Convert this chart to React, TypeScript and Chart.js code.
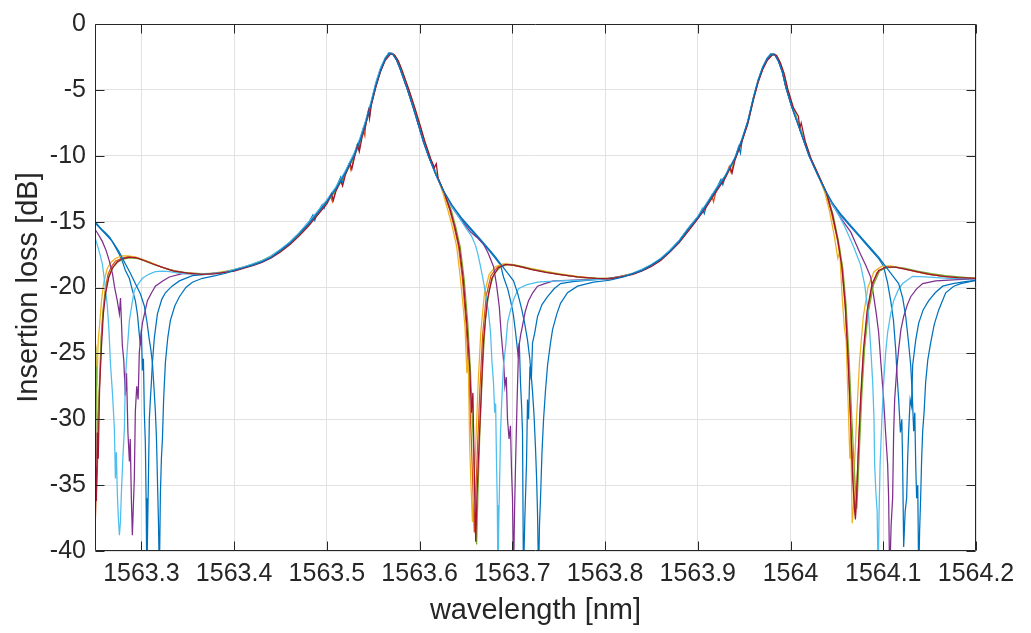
import React, { useEffect, useRef } from "react";
import { Chart, registerables } from "chart.js";

Chart.register(...registerables);

// ---- axis ticks ----
const xTickValues = [1563.3, 1563.4, 1563.5, 1563.6, 1563.7, 1563.8, 1563.9, 1564.0, 1564.1, 1564.2];
const yTickValues = [0, -5, -10, -15, -20, -25, -30, -35, -40];

// ---- series: [wavelength nm, insertion loss dB] ----
const blueA: number[][] = [
  [1563.25,-15.0],[1563.256,-15.5],[1563.262,-15.9],[1563.266,-16.2],[1563.271,-16.8],[1563.2763,-17.5],[1563.28,-18.1],[1563.2827,-18.7],[1563.287,-19.3],[1563.2903,-20.2],[1563.2935,-21.0],[1563.2957,-22.0],[1563.2989,-24.4],[1563.3,-23.2],[1563.3011,-26.3],[1563.3022,-25.4],[1563.3032,-29.5],[1563.3043,-31.8],[1563.3051,-36.0],[1563.3059,-42.0],[1563.3068,-38.0],[1563.3076,-34.5],[1563.3086,-30.0],[1563.3097,-28.5],[1563.3108,-27.2],[1563.3119,-25.7],[1563.314,-23.8],[1563.3173,-22.0],[1563.322,-20.9],[1563.3259,-20.4],[1563.333,-19.9],[1563.341,-19.5],[1563.355,-19.1],[1563.37,-19.0],[1563.385,-18.9],
  [1563.40,-18.65],[1563.41,-18.45],[1563.42,-18.25],[1563.43,-18.0],[1563.44,-17.65],[1563.45,-17.15],[1563.46,-16.6],[1563.47,-15.9],[1563.48,-15.1],[1563.485,-14.5],[1563.487,-14.9],[1563.49,-14.3],[1563.495,-13.7],[1563.497,-14.0],[1563.50,-13.4],[1563.51,-12.4],[1563.515,-11.6],[1563.517,-12.0],[1563.52,-11.2],[1563.53,-9.8],[1563.533,-9.1],[1563.535,-9.5],[1563.536,-8.7],[1563.542,-7.4],[1563.545,-6.5],[1563.546,-7.0],[1563.548,-5.9],[1563.553,-4.5],[1563.558,-3.4],[1563.563,-2.6],[1563.567,-2.2],[1563.571,-2.25],[1563.575,-2.7],[1563.579,-3.4],[1563.583,-4.2],[1563.587,-5.0],[1563.593,-6.3],[1563.599,-7.7],[1563.604,-8.9],[1563.61,-10.1],[1563.618,-11.5],[1563.626,-12.7],
  [1563.635,-13.8],[1563.645,-14.8],[1563.655,-15.6],[1563.665,-16.4],[1563.675,-17.2],[1563.682,-17.8],[1563.6873,-18.3],[1563.6905,-19.2],[1563.695,-20.1],[1563.6981,-21.0],[1563.701,-22.0],[1563.7035,-23.4],[1563.706,-25.0],[1563.7075,-24.2],[1563.7088,-27.2],[1563.71,-29.0],[1563.711,-31.0],[1563.712,-42.0],[1563.7135,-37.5],[1563.7153,-33.4],[1563.7164,-28.5],[1563.7175,-30.0],[1563.719,-26.0],[1563.7205,-27.0],[1563.7218,-24.2],[1563.724,-23.5],[1563.7272,-22.2],[1563.732,-21.3],[1563.738,-20.7],[1563.745,-20.1],[1563.752,-19.7],[1563.765,-19.55],[1563.78,-19.45],[1563.80,-19.35],[1563.815,-19.2],
  [1563.83,-18.95],[1563.84,-18.65],[1563.85,-18.3],[1563.86,-17.8],[1563.87,-17.2],[1563.88,-16.45],[1563.89,-15.5],[1563.90,-14.65],[1563.905,-14.0],[1563.907,-14.4],[1563.91,-13.6],[1563.92,-12.5],[1563.925,-11.8],[1563.927,-12.2],[1563.93,-11.5],[1563.94,-10.2],[1563.944,-9.3],[1563.946,-9.8],[1563.948,-8.7],[1563.954,-7.4],[1563.96,-5.6],[1563.965,-4.3],[1563.97,-3.3],[1563.975,-2.6],[1563.979,-2.25],[1563.983,-2.3],[1563.987,-2.8],[1563.991,-3.6],[1563.995,-4.8],[1564.001,-6.2],[1564.008,-7.6],[1564.014,-8.8],[1564.02,-10.0],[1564.029,-11.4],[1564.038,-12.7],
  [1564.045,-13.6],[1564.055,-14.6],[1564.065,-15.4],[1564.075,-16.2],[1564.085,-17.0],[1564.095,-17.8],[1564.1004,-18.4],[1564.1045,-19.6],[1564.108,-21.0],[1564.111,-22.5],[1564.1134,-24.7],[1564.115,-26.8],[1564.1166,-28.5],[1564.1185,-31.0],[1564.12,-30.0],[1564.1209,-33.4],[1564.122,-39.7],[1564.1236,-37.0],[1564.1252,-36.0],[1564.1263,-33.0],[1564.1274,-30.9],[1564.129,-28.5],[1564.1305,-29.0],[1564.1317,-25.9],[1564.135,-24.0],[1564.1382,-22.7],[1564.143,-21.7],[1564.149,-21.0],[1564.156,-20.4],[1564.1641,-19.9],[1564.175,-19.7],[1564.188,-19.55],[1564.2,-19.45],
];

const orange: number[][] = [
  [1563.25,-38.5],[1563.2512,-36.0],[1563.2525,-34.0],[1563.254,-29.0],[1563.2555,-26.5],[1563.257,-23.5],[1563.259,-21.5],[1563.261,-20.2],[1563.264,-19.0],[1563.268,-18.4],[1563.272,-18.0],[1563.278,-17.8],[1563.285,-17.65],[1563.293,-17.7],[1563.30,-17.85],[1563.308,-18.05],[1563.318,-18.35],[1563.33,-18.65],[1563.345,-18.85],[1563.36,-18.95],[1563.375,-18.95],[1563.388,-18.85],
  [1563.40,-18.7],[1563.41,-18.5],[1563.42,-18.3],[1563.43,-18.05],[1563.44,-17.7],[1563.45,-17.2],[1563.46,-16.7],[1563.47,-16.0],[1563.48,-15.25],[1563.49,-14.4],[1563.50,-13.55],[1563.504,-13.0],[1563.506,-13.5],[1563.51,-12.55],[1563.52,-11.35],[1563.524,-10.6],[1563.526,-11.1],[1563.53,-9.95],[1563.536,-8.85],[1563.539,-8.0],[1563.541,-8.5],[1563.542,-7.55],[1563.548,-6.05],[1563.553,-4.65],[1563.558,-3.5],[1563.563,-2.7],[1563.568,-2.25],[1563.572,-2.3],[1563.576,-2.75],[1563.58,-3.45],[1563.584,-4.25],[1563.588,-5.05],[1563.594,-6.35],[1563.60,-7.75],[1563.605,-8.95],[1563.611,-10.2],[1563.619,-11.6],[1563.626,-12.8],
  [1563.632,-14.0],[1563.637,-15.3],[1563.642,-16.9],[1563.646,-19.2],[1563.65,-22.6],[1563.653,-26.5],[1563.656,-32.0],[1563.659,-38.6],[1563.662,-33.0],[1563.665,-27.8],[1563.668,-23.6],[1563.672,-20.6],[1563.677,-19.1],[1563.684,-18.45],[1563.692,-18.25],[1563.70,-18.3],[1563.71,-18.45],[1563.72,-18.6],[1563.735,-18.8],[1563.75,-19.0],[1563.77,-19.2],[1563.79,-19.3],[1563.805,-19.35],[1563.82,-19.15],
  [1563.83,-18.95],[1563.84,-18.7],[1563.85,-18.35],[1563.86,-17.9],[1563.87,-17.25],[1563.88,-16.5],[1563.89,-15.6],[1563.90,-14.7],[1563.91,-13.7],[1563.915,-13.0],[1563.917,-13.5],[1563.92,-12.6],[1563.93,-11.55],[1563.934,-10.8],[1563.936,-11.3],[1563.94,-10.25],[1563.948,-8.75],[1563.954,-7.45],[1563.96,-5.65],[1563.965,-4.35],[1563.97,-3.35],[1563.975,-2.65],[1563.98,-2.3],[1563.984,-2.35],[1563.988,-2.9],[1563.992,-3.7],[1563.996,-4.9],[1564.002,-6.3],[1564.009,-7.7],[1564.015,-8.9],[1564.021,-10.1],[1564.03,-11.5],[1564.038,-12.8],
  [1564.044,-14.3],[1564.05,-16.2],[1564.055,-18.2],[1564.059,-21.5],[1564.062,-25.5],[1564.065,-30.5],[1564.068,-35.0],[1564.07,-37.3],[1564.0725,-33.5],[1564.075,-29.5],[1564.078,-25.8],[1564.082,-22.6],[1564.087,-20.2],[1564.093,-18.9],[1564.102,-18.45],[1564.112,-18.45],[1564.122,-18.55],[1564.135,-18.8],[1564.15,-19.0],[1564.165,-19.15],[1564.18,-19.25],[1564.2,-19.3],
];

const yellow: number[][] = [
  [1563.25,-30.0],[1563.2508,-24.3],[1563.252,-27.5],[1563.2535,-24.0],[1563.255,-22.8],[1563.257,-21.0],[1563.2595,-19.6],[1563.263,-18.6],[1563.267,-18.1],[1563.272,-17.8],[1563.279,-17.6],[1563.286,-17.6],[1563.294,-17.7],[1563.302,-17.9],[1563.31,-18.1],[1563.32,-18.4],[1563.332,-18.7],[1563.346,-18.9],[1563.36,-19.0],[1563.375,-18.95],[1563.388,-18.8],
  [1563.40,-18.65],[1563.41,-18.45],[1563.42,-18.25],[1563.43,-17.95],[1563.44,-17.6],[1563.45,-17.15],[1563.46,-16.6],[1563.47,-15.95],[1563.48,-15.15],[1563.49,-14.3],[1563.50,-13.45],[1563.51,-12.45],[1563.52,-11.25],[1563.53,-9.85],[1563.536,-8.75],[1563.542,-7.45],[1563.548,-5.95],[1563.553,-4.55],[1563.558,-3.4],[1563.563,-2.6],[1563.568,-2.2],[1563.572,-2.3],[1563.576,-2.7],[1563.58,-3.4],[1563.584,-4.2],[1563.588,-5.0],[1563.594,-6.3],[1563.60,-7.7],[1563.605,-8.9],[1563.611,-10.15],[1563.619,-11.6],[1563.625,-12.8],
  [1563.63,-14.0],[1563.635,-15.3],[1563.64,-16.9],[1563.644,-19.3],[1563.647,-21.5],[1563.649,-23.0],[1563.651,-26.5],[1563.6525,-25.5],[1563.654,-32.0],[1563.6557,-35.5],[1563.657,-37.8],[1563.6585,-35.0],[1563.66,-33.0],[1563.663,-27.5],[1563.666,-23.4],[1563.67,-20.4],[1563.675,-19.0],[1563.682,-18.4],[1563.69,-18.2],[1563.70,-18.25],[1563.71,-18.4],[1563.72,-18.55],[1563.735,-18.75],[1563.75,-18.95],[1563.77,-19.15],[1563.79,-19.3],[1563.805,-19.3],[1563.82,-19.1],
  [1563.83,-18.9],[1563.84,-18.65],[1563.85,-18.3],[1563.86,-17.85],[1563.87,-17.2],[1563.88,-16.45],[1563.89,-15.55],[1563.90,-14.65],[1563.91,-13.65],[1563.92,-12.55],[1563.93,-11.5],[1563.94,-10.2],[1563.948,-8.7],[1563.954,-7.4],[1563.96,-5.6],[1563.965,-4.3],[1563.97,-3.3],[1563.975,-2.6],[1563.98,-2.25],[1563.984,-2.35],[1563.988,-2.9],[1563.992,-3.7],[1563.996,-4.9],[1564.002,-6.3],[1564.009,-7.7],[1564.015,-8.9],[1564.021,-10.1],[1564.03,-11.5],[1564.037,-12.8],
  [1564.042,-14.2],[1564.047,-16.0],[1564.051,-17.8],[1564.053,-17.2],[1564.0555,-20.5],[1564.058,-23.0],[1564.06,-24.0],[1564.062,-28.5],[1564.064,-33.0],[1564.065,-31.0],[1564.0665,-37.9],[1564.068,-36.5],[1564.069,-33.5],[1564.0715,-29.5],[1564.0745,-25.5],[1564.0785,-22.2],[1564.0835,-20.0],[1564.09,-18.8],[1564.098,-18.4],[1564.108,-18.35],[1564.118,-18.5],[1564.13,-18.7],[1564.145,-18.95],[1564.16,-19.1],[1564.18,-19.25],[1564.2,-19.3],
];

const purple: number[][] = [
  [1563.25,-15.6],[1563.253,-15.9],[1563.2579,-16.5],[1563.262,-17.2],[1563.2655,-18.0],[1563.269,-19.0],[1563.2709,-19.9],[1563.274,-21.0],[1563.2763,-22.0],[1563.2775,-20.8],[1563.2795,-24.4],[1563.281,-25.5],[1563.2827,-28.2],[1563.284,-26.5],[1563.2855,-31.0],[1563.2871,-33.2],[1563.288,-31.5],[1563.2892,-36.0],[1563.2903,-38.8],[1563.2914,-36.5],[1563.2924,-34.5],[1563.2935,-29.4],[1563.295,-27.5],[1563.2965,-28.5],[1563.2978,-24.9],[1563.3011,-22.7],[1563.304,-21.8],[1563.3065,-21.0],[1563.311,-20.4],[1563.3151,-19.9],[1563.323,-19.5],[1563.3302,-19.2],[1563.3442,-18.95],[1563.36,-18.95],[1563.375,-18.95],[1563.388,-18.85],
  [1563.40,-18.7],[1563.41,-18.5],[1563.42,-18.25],[1563.43,-18.0],[1563.44,-17.65],[1563.45,-17.15],[1563.46,-16.6],[1563.47,-15.9],[1563.48,-15.1],[1563.49,-14.3],[1563.50,-13.4],[1563.51,-12.45],[1563.52,-11.25],[1563.53,-9.8],[1563.536,-8.7],[1563.542,-7.4],[1563.548,-5.9],[1563.553,-4.5],[1563.558,-3.35],[1563.563,-2.6],[1563.567,-2.2],[1563.571,-2.25],[1563.575,-2.7],[1563.579,-3.4],[1563.583,-4.2],[1563.587,-5.0],[1563.593,-6.3],[1563.599,-7.7],[1563.604,-8.9],[1563.61,-10.1],[1563.618,-11.5],[1563.626,-12.75],
  [1563.635,-13.9],[1563.645,-14.9],[1563.655,-15.8],[1563.662,-16.2],[1563.6689,-16.7],[1563.674,-17.4],[1563.6797,-18.4],[1563.683,-19.8],[1563.686,-21.5],[1563.688,-23.5],[1563.6905,-25.5],[1563.692,-27.5],[1563.6935,-26.8],[1563.6948,-30.0],[1563.6965,-31.5],[1563.698,-30.5],[1563.6992,-34.0],[1563.7002,-36.0],[1563.7013,-42.0],[1563.7024,-37.0],[1563.7035,-33.4],[1563.705,-29.0],[1563.7067,-24.7],[1563.709,-23.6],[1563.711,-22.9],[1563.714,-21.8],[1563.7175,-21.0],[1563.722,-20.4],[1563.7272,-19.9],[1563.735,-19.7],[1563.7444,-19.5],[1563.76,-19.45],[1563.78,-19.4],[1563.80,-19.35],[1563.815,-19.2],
  [1563.83,-18.95],[1563.84,-18.65],[1563.85,-18.3],[1563.86,-17.85],[1563.87,-17.2],[1563.88,-16.45],[1563.89,-15.5],[1563.90,-14.65],[1563.91,-13.6],[1563.92,-12.5],[1563.93,-11.5],[1563.94,-10.2],[1563.948,-8.7],[1563.954,-7.4],[1563.96,-5.6],[1563.965,-4.3],[1563.97,-3.3],[1563.975,-2.6],[1563.979,-2.25],[1563.983,-2.3],[1563.987,-2.8],[1563.991,-3.6],[1563.995,-4.8],[1564.001,-6.2],[1564.008,-7.6],[1564.014,-8.8],[1564.02,-10.0],[1564.029,-11.4],[1564.038,-12.75],
  [1564.045,-13.7],[1564.055,-14.8],[1564.065,-15.8],[1564.07,-16.6],[1564.0756,-17.5],[1564.081,-18.3],[1564.0864,-19.2],[1564.09,-20.8],[1564.0925,-22.0],[1564.095,-23.4],[1564.0975,-25.8],[1564.1004,-28.5],[1564.1025,-31.0],[1564.1047,-33.4],[1564.1058,-36.0],[1564.1069,-42.0],[1564.1085,-38.0],[1564.1101,-36.0],[1564.1112,-31.0],[1564.1123,-28.5],[1564.1145,-26.2],[1564.1166,-24.7],[1564.119,-23.2],[1564.122,-22.2],[1564.126,-21.3],[1564.1296,-20.7],[1564.136,-20.1],[1564.1425,-19.7],[1564.1565,-19.5],[1564.18,-19.4],[1564.2,-19.35],
];

const green: number[][] = [
  [1563.25,-24.5],[1563.2508,-27.5],[1563.2516,-26.0],[1563.2525,-33.0],[1563.2535,-30.0],[1563.255,-27.0],[1563.2565,-24.0],[1563.2585,-22.0],[1563.261,-20.5],[1563.2645,-19.2],[1563.269,-18.5],[1563.274,-18.1],[1563.28,-17.85],[1563.288,-17.75],[1563.296,-17.8],[1563.304,-18.0],[1563.313,-18.25],[1563.324,-18.5],[1563.337,-18.75],[1563.352,-18.9],[1563.367,-18.95],[1563.382,-18.9],[1563.392,-18.8],
  [1563.40,-18.7],[1563.41,-18.5],[1563.42,-18.3],[1563.43,-18.05],[1563.44,-17.7],[1563.45,-17.25],[1563.46,-16.7],[1563.47,-16.05],[1563.48,-15.3],[1563.49,-14.45],[1563.50,-13.6],[1563.51,-12.6],[1563.52,-11.4],[1563.53,-10.0],[1563.536,-8.9],[1563.542,-7.6],[1563.548,-6.1],[1563.553,-4.7],[1563.558,-3.55],[1563.563,-2.7],[1563.569,-2.25],[1563.573,-2.35],[1563.577,-2.8],[1563.581,-3.5],[1563.585,-4.3],[1563.589,-5.1],[1563.595,-6.4],[1563.601,-7.8],[1563.606,-9.0],[1563.612,-10.25],[1563.62,-11.7],[1563.627,-12.85],
  [1563.634,-14.1],[1563.639,-15.4],[1563.644,-17.0],[1563.648,-19.3],[1563.652,-22.7],[1563.655,-26.5],[1563.658,-32.0],[1563.66,-36.0],[1563.6615,-39.5],[1563.663,-35.5],[1563.665,-31.0],[1563.668,-26.0],[1563.671,-22.4],[1563.675,-20.2],[1563.68,-19.0],[1563.687,-18.45],[1563.695,-18.25],[1563.703,-18.3],[1563.713,-18.45],[1563.723,-18.65],[1563.738,-18.85],[1563.755,-19.05],[1563.775,-19.25],[1563.795,-19.3],[1563.81,-19.3],[1563.822,-19.1],
  [1563.83,-18.95],[1563.84,-18.7],[1563.85,-18.35],[1563.86,-17.9],[1563.87,-17.25],[1563.88,-16.55],[1563.89,-15.65],[1563.90,-14.75],[1563.91,-13.75],[1563.92,-12.65],[1563.93,-11.6],[1563.94,-10.3],[1563.948,-8.8],[1563.954,-7.5],[1563.96,-5.7],[1563.965,-4.4],[1563.97,-3.4],[1563.975,-2.7],[1563.981,-2.3],[1563.985,-2.4],[1563.989,-2.95],[1563.993,-3.75],[1563.997,-4.95],[1564.003,-6.35],[1564.01,-7.75],[1564.016,-8.95],[1564.022,-10.2],[1564.031,-11.6],[1564.039,-12.85],
  [1564.046,-14.5],[1564.052,-16.6],[1564.0565,-18.6],[1564.06,-21.4],[1564.063,-25.2],[1564.0655,-29.0],[1564.0685,-33.5],[1564.0705,-35.8],[1564.0715,-36.8],[1564.073,-34.5],[1564.0748,-31.5],[1564.077,-28.0],[1564.08,-24.5],[1564.084,-21.8],[1564.0895,-19.8],[1564.096,-18.75],[1564.104,-18.5],[1564.114,-18.45],[1564.124,-18.55],[1564.137,-18.75],[1564.152,-18.95],[1564.167,-19.1],[1564.182,-19.2],[1564.2,-19.3],
];

const lightBlue: number[][] = [
  [1563.25,-16.2],[1563.253,-16.9],[1563.2558,-17.6],[1563.2579,-18.2],[1563.2605,-19.6],[1563.2633,-21.4],[1563.265,-23.2],[1563.2666,-25.7],[1563.2688,-28.0],[1563.2709,-30.7],[1563.272,-34.5],[1563.273,-32.5],[1563.2741,-35.7],[1563.2752,-37.5],[1563.2763,-38.8],[1563.2774,-37.8],[1563.2784,-35.7],[1563.28,-33.0],[1563.2817,-30.7],[1563.2827,-27.0],[1563.285,-24.5],[1563.2871,-22.5],[1563.29,-21.2],[1563.2924,-20.2],[1563.297,-19.7],[1563.3011,-19.3],[1563.308,-19.0],[1563.3151,-18.8],[1563.323,-18.75],[1563.3302,-18.8],[1563.34,-18.9],[1563.3475,-18.95],[1563.36,-19.0],[1563.375,-18.95],[1563.388,-18.85],
  [1563.40,-18.65],[1563.41,-18.45],[1563.42,-18.2],[1563.43,-17.95],[1563.44,-17.6],[1563.45,-17.1],[1563.46,-16.55],[1563.47,-15.85],[1563.48,-15.05],[1563.49,-14.2],[1563.50,-13.35],[1563.51,-12.35],[1563.52,-11.15],[1563.53,-9.7],[1563.536,-8.6],[1563.542,-7.3],[1563.548,-5.8],[1563.553,-4.4],[1563.558,-3.3],[1563.563,-2.55],[1563.567,-2.2],[1563.571,-2.25],[1563.575,-2.65],[1563.579,-3.35],[1563.583,-4.15],[1563.587,-4.95],[1563.593,-6.25],[1563.599,-7.65],[1563.604,-8.85],[1563.61,-10.05],[1563.618,-11.5],[1563.626,-12.75],
  [1563.633,-13.7],[1563.64,-14.4],[1563.65,-15.5],[1563.656,-16.1],[1563.6603,-16.8],[1563.663,-17.5],[1563.6657,-18.4],[1563.669,-19.6],[1563.672,-20.8],[1563.6745,-22.0],[1563.6765,-23.4],[1563.678,-25.6],[1563.6797,-27.2],[1563.681,-29.5],[1563.682,-28.8],[1563.683,-33.4],[1563.6838,-36.5],[1563.6845,-42.0],[1563.6855,-37.5],[1563.6865,-34.0],[1563.6873,-30.9],[1563.689,-28.0],[1563.6905,-25.9],[1563.693,-24.3],[1563.695,-22.6],[1563.6981,-21.7],[1563.702,-20.8],[1563.7067,-20.1],[1563.715,-19.8],[1563.7272,-19.6],[1563.7488,-19.5],[1563.77,-19.45],[1563.79,-19.4],[1563.805,-19.35],[1563.82,-19.15],
  [1563.83,-18.9],[1563.84,-18.6],[1563.85,-18.25],[1563.86,-17.8],[1563.87,-17.15],[1563.88,-16.4],[1563.89,-15.45],[1563.90,-14.6],[1563.91,-13.55],[1563.92,-12.45],[1563.93,-11.45],[1563.94,-10.15],[1563.948,-8.65],[1563.954,-7.35],[1563.96,-5.55],[1563.965,-4.25],[1563.97,-3.25],[1563.975,-2.55],[1563.979,-2.25],[1563.983,-2.3],[1563.987,-2.8],[1563.991,-3.55],[1563.995,-4.75],[1564.001,-6.15],[1564.008,-7.55],[1564.014,-8.75],[1564.02,-9.95],[1564.029,-11.4],[1564.038,-12.75],
  [1564.048,-14.0],[1564.058,-15.3],[1564.068,-16.9],[1564.0756,-18.3],[1564.08,-19.8],[1564.0843,-22.2],[1564.0865,-24.6],[1564.0886,-27.2],[1564.09,-30.0],[1564.0907,-33.4],[1564.092,-35.5],[1564.0934,-37.0],[1564.0945,-42.0],[1564.0955,-37.0],[1564.0966,-33.4],[1564.0985,-30.0],[1564.1004,-27.2],[1564.1025,-25.0],[1564.1047,-23.4],[1564.108,-22.0],[1564.1112,-21.0],[1564.116,-20.2],[1564.1209,-19.7],[1564.1317,-19.15],[1564.1457,-19.2],[1564.17,-19.3],[1564.2,-19.35],
];

const red: number[][] = [
  [1563.25,-30.5],[1563.2505,-33.5],[1563.2515,-36.2],[1563.2525,-31.0],[1563.2535,-33.0],[1563.255,-27.5],[1563.257,-24.5],[1563.259,-22.0],[1563.2615,-20.4],[1563.265,-19.2],[1563.269,-18.5],[1563.274,-18.05],[1563.28,-17.8],[1563.287,-17.7],[1563.295,-17.75],[1563.303,-17.95],[1563.312,-18.2],[1563.322,-18.45],[1563.335,-18.75],[1563.35,-18.9],[1563.365,-19.0],[1563.38,-18.95],[1563.39,-18.85],
  [1563.40,-18.75],[1563.41,-18.55],[1563.42,-18.35],[1563.43,-18.1],[1563.44,-17.75],[1563.45,-17.3],[1563.46,-16.75],[1563.47,-16.1],[1563.48,-15.35],[1563.49,-14.5],[1563.50,-13.65],[1563.505,-12.9],[1563.507,-13.4],[1563.51,-12.65],[1563.515,-11.9],[1563.517,-12.3],[1563.52,-11.45],[1563.525,-10.6],[1563.527,-11.0],[1563.53,-10.05],[1563.533,-9.2],[1563.535,-9.7],[1563.538,-8.6],[1563.542,-7.65],[1563.545,-6.6],[1563.546,-7.2],[1563.548,-6.15],[1563.553,-4.75],[1563.558,-3.6],[1563.563,-2.75],[1563.569,-2.25],[1563.573,-2.35],[1563.577,-2.8],[1563.581,-3.5],[1563.585,-4.3],[1563.589,-5.1],[1563.595,-6.4],[1563.601,-7.8],[1563.606,-9.0],[1563.612,-10.25],[1563.616,-10.9],[1563.618,-10.6],[1563.62,-11.7],[1563.627,-12.85],
  [1563.633,-14.1],[1563.638,-15.4],[1563.643,-17.0],[1563.647,-19.3],[1563.651,-22.8],[1563.654,-26.0],[1563.656,-29.5],[1563.6575,-28.0],[1563.659,-34.0],[1563.6605,-39.3],[1563.6618,-36.0],[1563.6635,-33.0],[1563.665,-30.5],[1563.6665,-28.0],[1563.669,-24.0],[1563.673,-21.0],[1563.678,-19.3],[1563.685,-18.5],[1563.693,-18.25],[1563.701,-18.3],[1563.711,-18.45],[1563.721,-18.65],[1563.736,-18.85],[1563.75,-19.0],[1563.77,-19.2],[1563.79,-19.3],[1563.805,-19.35],[1563.82,-19.15],
  [1563.83,-19.0],[1563.84,-18.75],[1563.85,-18.4],[1563.86,-17.95],[1563.87,-17.3],[1563.88,-16.6],[1563.89,-15.7],[1563.90,-14.8],[1563.91,-13.8],[1563.92,-12.7],[1563.93,-11.65],[1563.935,-10.9],[1563.937,-11.3],[1563.94,-10.35],[1563.948,-8.85],[1563.954,-7.55],[1563.96,-5.75],[1563.965,-4.45],[1563.97,-3.45],[1563.975,-2.75],[1563.981,-2.3],[1563.985,-2.4],[1563.989,-2.95],[1563.993,-3.75],[1563.997,-4.95],[1564.003,-6.35],[1564.0085,-7.0],[1564.01,-7.9],[1564.0115,-7.5],[1564.016,-8.95],[1564.022,-10.2],[1564.031,-11.6],[1564.039,-12.85],
  [1564.045,-14.4],[1564.051,-16.4],[1564.0555,-18.5],[1564.059,-21.3],[1564.062,-25.3],[1564.0645,-29.5],[1564.067,-34.5],[1564.069,-36.8],[1564.07,-37.6],[1564.0715,-35.5],[1564.073,-32.5],[1564.0755,-28.5],[1564.0785,-24.8],[1564.0825,-21.8],[1564.088,-19.7],[1564.095,-18.7],[1564.103,-18.45],[1564.113,-18.45],[1564.123,-18.6],[1564.136,-18.8],[1564.15,-19.0],[1564.165,-19.15],[1564.18,-19.25],[1564.2,-19.3],
];

const blueB: number[][] = [
  [1563.25,-15.1],[1563.258,-15.7],[1563.2687,-16.5],[1563.276,-17.3],[1563.2827,-18.2],[1563.288,-18.9],[1563.2935,-19.7],[1563.299,-20.5],[1563.3032,-21.4],[1563.306,-22.6],[1563.3086,-24.0],[1563.31,-24.6],[1563.3119,-25.7],[1563.3135,-27.5],[1563.3151,-29.4],[1563.3163,-31.5],[1563.3173,-34.5],[1563.3185,-38.0],[1563.3194,-42.0],[1563.3205,-35.7],[1563.3216,-33.0],[1563.3227,-31.5],[1563.324,-28.5],[1563.3259,-25.7],[1563.3285,-23.8],[1563.3313,-22.5],[1563.336,-21.4],[1563.341,-20.7],[1563.348,-20.0],[1563.355,-19.6],[1563.3658,-19.3],[1563.38,-19.1],[1563.392,-18.9],
  [1563.40,-18.7],[1563.41,-18.5],[1563.42,-18.3],[1563.43,-18.05],[1563.44,-17.7],[1563.45,-17.2],[1563.46,-16.65],[1563.47,-15.95],[1563.48,-15.2],[1563.49,-14.35],[1563.50,-13.5],[1563.51,-12.5],[1563.52,-11.3],[1563.53,-9.9],[1563.536,-8.8],[1563.542,-7.5],[1563.548,-6.0],[1563.553,-4.6],[1563.558,-3.5],[1563.563,-2.65],[1563.567,-2.25],[1563.571,-2.3],[1563.575,-2.7],[1563.579,-3.4],[1563.583,-4.2],[1563.587,-5.0],[1563.593,-6.3],[1563.599,-7.7],[1563.604,-8.9],[1563.61,-10.1],[1563.618,-11.5],[1563.626,-12.7],
  [1563.635,-13.75],[1563.645,-14.7],[1563.655,-15.5],[1563.665,-16.3],[1563.675,-17.1],[1563.682,-17.7],[1563.6873,-18.2],[1563.695,-18.9],[1563.7013,-19.5],[1563.706,-20.5],[1563.71,-21.6],[1563.713,-22.6],[1563.7164,-24.0],[1563.719,-25.5],[1563.7218,-27.9],[1563.7235,-29.8],[1563.725,-32.2],[1563.7262,-34.5],[1563.7272,-37.2],[1563.7283,-42.0],[1563.7293,-38.0],[1563.7304,-36.0],[1563.732,-32.5],[1563.7337,-30.0],[1563.7358,-27.8],[1563.738,-25.9],[1563.741,-24.3],[1563.7434,-23.2],[1563.748,-22.0],[1563.752,-21.2],[1563.7595,-20.4],[1563.7703,-19.9],[1563.7876,-19.6],[1563.805,-19.45],[1563.82,-19.2],
  [1563.83,-18.95],[1563.84,-18.7],[1563.85,-18.3],[1563.86,-17.85],[1563.87,-17.25],[1563.88,-16.5],[1563.89,-15.55],[1563.90,-14.7],[1563.91,-13.65],[1563.92,-12.55],[1563.93,-11.5],[1563.94,-10.2],[1563.948,-8.7],[1563.954,-7.4],[1563.96,-5.6],[1563.965,-4.3],[1563.97,-3.3],[1563.975,-2.6],[1563.979,-2.3],[1563.983,-2.35],[1563.987,-2.85],[1563.991,-3.6],[1563.995,-4.8],[1564.001,-6.2],[1564.008,-7.6],[1564.014,-8.8],[1564.02,-10.0],[1564.029,-11.4],[1564.038,-12.7],
  [1564.045,-13.55],[1564.055,-14.5],[1564.065,-15.3],[1564.075,-16.1],[1564.085,-16.9],[1564.095,-17.7],[1564.1004,-18.2],[1564.108,-18.9],[1564.1166,-19.7],[1564.121,-20.8],[1564.1242,-22.2],[1564.127,-24.0],[1564.1296,-25.9],[1564.1312,-28.0],[1564.1328,-30.9],[1564.134,-29.5],[1564.135,-33.5],[1564.136,-36.0],[1564.1372,-35.0],[1564.1382,-42.0],[1564.1392,-38.5],[1564.1403,-36.0],[1564.1414,-33.0],[1564.1425,-30.9],[1564.144,-29.5],[1564.1457,-27.2],[1564.148,-25.5],[1564.1511,-24.2],[1564.155,-22.8],[1564.1598,-21.7],[1564.1673,-20.4],[1564.176,-19.9],[1564.1835,-19.7],[1564.2,-19.45],
];

// MATLAB default colour order, plotting order 1..8
const seriesList = [blueA, orange, yellow, purple, green, lightBlue, red, blueB];
const seriesColors = ["#0072BD", "#D95319", "#EDB120", "#7E2F8E", "#77AC30", "#4DBEEE", "#A2142F", "#0072BD"];

const AXIS_COLOR = "#262626";
const FONT_FAMILY = "'Liberation Sans', Arial, Helvetica, sans-serif";

const boxPlugin = {
  id: "matlabBox",
  afterDatasetsDraw(chart: any) {
    const { ctx, chartArea, scales } = chart;
    const { left, right, top, bottom } = chartArea;
    ctx.save();
    ctx.strokeStyle = AXIS_COLOR;
    ctx.lineWidth = 1;
    ctx.beginPath();
    const L = Math.round(left) + 0.5;
    const R = Math.round(right) - 0.5;
    const T = Math.round(top) + 0.5;
    const B = Math.round(bottom) - 0.5;
    ctx.rect(L, T, R - L, B - T);
    const len = 9;
    for (const v of xTickValues) {
      const px = Math.round(scales.x.getPixelForValue(v)) + 0.5;
      ctx.moveTo(px, B);
      ctx.lineTo(px, B - len);
      ctx.moveTo(px, T);
      ctx.lineTo(px, T + len);
    }
    for (const v of yTickValues) {
      const py = Math.round(scales.y.getPixelForValue(v)) + 0.5;
      ctx.moveTo(L, py);
      ctx.lineTo(L + len, py);
      ctx.moveTo(R, py);
      ctx.lineTo(R - len, py);
    }
    ctx.stroke();
    ctx.restore();
  },
};

export default function App() {
  const canvasRef = useRef<HTMLCanvasElement | null>(null);

  useEffect(() => {
    const canvas = canvasRef.current;
    if (!canvas) return;
    const datasets = seriesList
      .map((s, i) => ({
        label: "trace " + (i + 1),
        data: s.map((p) => ({ x: p[0], y: p[1] })),
        borderColor: seriesColors[i],
        backgroundColor: seriesColors[i],
        borderWidth: 1.25,
        pointRadius: 0,
        tension: 0,
        fill: false,
      }))
      .reverse();

    const chart = new Chart(canvas, {
      type: "line",
      data: { datasets },
      plugins: [boxPlugin],
      options: {
        animation: false,
        responsive: false,
        devicePixelRatio: 1,
        parsing: false as any,
        layout: { padding: { left: 0, top: 17, right: 55, bottom: 0 } },
        plugins: { legend: { display: false }, tooltip: { enabled: false } },
        scales: {
          x: {
            type: "linear",
            min: 1563.25,
            max: 1564.2,
            afterBuildTicks: (scale: any) => {
              scale.ticks = xTickValues.map((v) => ({ value: v }));
            },
            afterFit: (scale: any) => {
              scale.height = 82;
            },
            grid: { color: "#e2e2e2", drawTicks: false, lineWidth: 1 },
            border: { display: false },
            ticks: {
              autoSkip: false,
              maxRotation: 0,
              padding: 8,
              color: AXIS_COLOR,
              font: { family: FONT_FAMILY, size: 25 },
              callback: (v: any) => String(Math.round(Number(v) * 10) / 10),
            },
            title: {
              display: true,
              text: "wavelength [nm]",
              color: AXIS_COLOR,
              font: { family: FONT_FAMILY, size: 29 },
              padding: { top: 0, bottom: 5 },
            },
          },
          y: {
            type: "linear",
            min: -40,
            max: 0,
            afterBuildTicks: (scale: any) => {
              scale.ticks = yTickValues.map((v) => ({ value: v }));
            },
            afterFit: (scale: any) => {
              scale.width = 95;
            },
            grid: { color: "#e2e2e2", drawTicks: false, lineWidth: 1 },
            border: { display: false },
            ticks: {
              padding: 9,
              color: AXIS_COLOR,
              font: { family: FONT_FAMILY, size: 25 },
              callback: (v: any) => String(v),
            },
            title: {
              display: true,
              text: "Insertion loss [dB]",
              color: AXIS_COLOR,
              font: { family: FONT_FAMILY, size: 29 },
              padding: { top: 12, bottom: 0 },
            },
          },
        },
      },
    });
    return () => chart.destroy();
  }, []);

  return (
    <div style={{ position: "absolute", left: 0, top: 0, width: 1031, height: 633, background: "#ffffff" }}>
      <canvas ref={canvasRef} width={1031} height={633} style={{ width: 1031, height: 633, display: "block" }} />
    </div>
  );
}
